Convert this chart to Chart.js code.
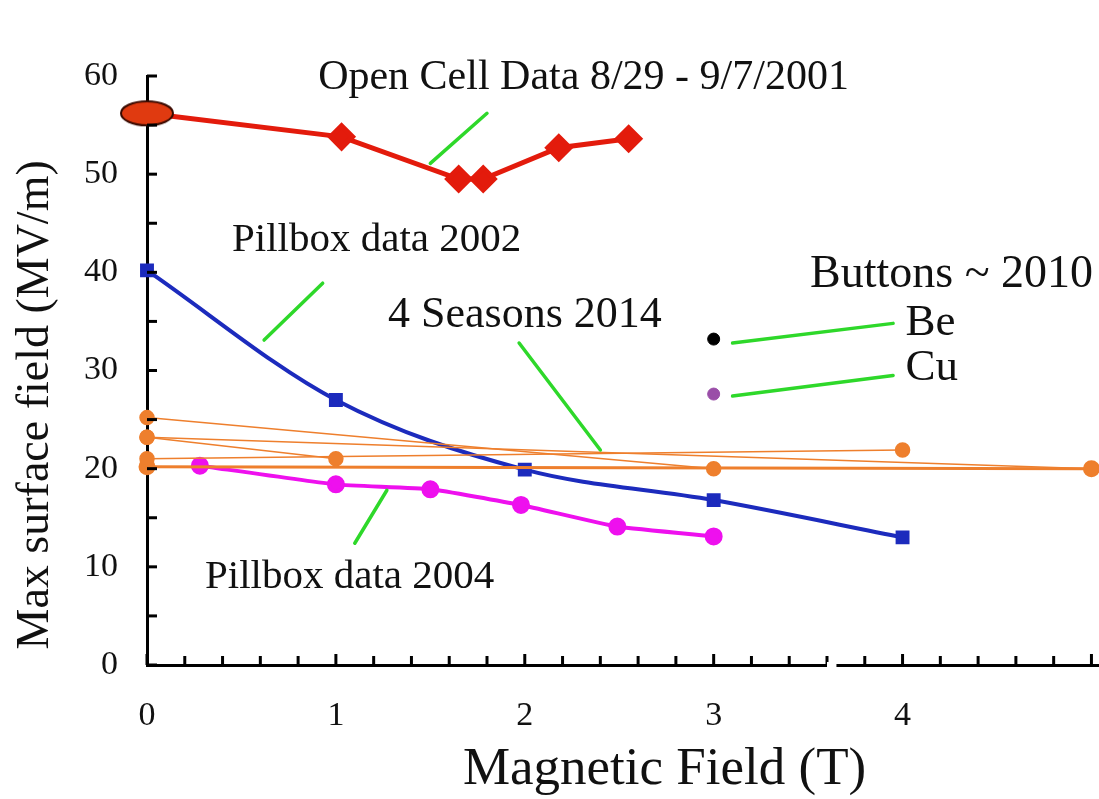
<!DOCTYPE html>
<html lang="en">
<head>
<meta charset="UTF-8">
<title>Max surface field vs magnetic field</title>
<script src="https://cdn.jsdelivr.net/npm/chart.js"></script>
<style>
html, body { margin: 0; padding: 0; background: #fff; overflow: hidden; }
#wrap { width: 1099px; height: 799px; position: relative; }
#wrap canvas { display: block; }
</style>
</head>
<body>
<div id="wrap"><canvas id="fieldChart"></canvas></div>
<script>
// Open cell data 8/29 - 9/7/2001
const openCellB = [0, 1.03, 1.65, 1.78, 2.18, 2.55];
const openCellE = [56.2, 53.8, 49.5, 49.5, 52.7, 53.6];

// Pillbox data 2002
const pill2002B = [0, 1, 2, 3, 4];
const pill2002E = [40.2, 27.0, 19.9, 16.8, 13.0];

// Pillbox data 2004
const pill2004B = [0.28, 1.0, 1.5, 1.98, 2.49, 3.0];
const pill2004E = [20.3, 18.4, 17.9, 16.3, 14.1, 13.1];

// 4 Seasons 2014 : each line goes from B = 0 to an end point
const seasonsStartE = [25.2, 23.2, 23.2, 21.0, 20.2];
const seasonsEndB = [3, 1, 5, 4, 5];
const seasonsEndE = [20.0, 21.0, 20.0, 21.9, 20.0];

// Buttons ~ 2010
const buttonNames = ['Be', 'Cu'];
const buttonB = [3, 3];
const buttonE = [33.2, 27.6];

// tick labels
const xTicks = [0, 1, 2, 3, 4];
const yTicks = [0, 10, 20, 30, 40, 50, 60];

// text labels and green leader lines (data units)
const notes = [
  { text: 'Open Cell Data 8/29 - 9/7/2001', b: 0.906, e: 59.8, size: 42 },
  { text: 'Pillbox data 2002', b: 0.45, e: 43.3, size: 41 },
  { text: '4 Seasons 2014', b: 1.276, e: 35.6, size: 44 },
  { text: 'Buttons ~ 2010', b: 3.51, e: 39.7, size: 46 },
  { text: 'Be', b: 4.015, e: 34.8, size: 45 },
  { text: 'Cu', b: 4.015, e: 30.2, size: 45 },
  { text: 'Pillbox data 2004', b: 0.307, e: 8.9, size: 41 }
];
const leaders = [
  [1.50, 51.1, 1.80, 56.2],
  [0.62, 33.1, 0.93, 38.9],
  [1.97, 32.8, 2.40, 21.9],
  [1.10, 12.4, 1.27, 17.8],
  [3.10, 32.8, 3.95, 34.8],
  [3.10, 27.4, 3.95, 29.5]
];
// little break in the B axis line
const axisBreak = [3.6, 3.65];

const serif = "'Liberation Serif', 'Times New Roman', serif";

function pts(xs, ys) {
  return xs.map((x, i) => ({ x: x, y: ys[i] }));
}

// big ellipse used for the first open cell point
const ellipse = document.createElement('canvas');
ellipse.width = 56;
ellipse.height = 28;
(function () {
  const c = ellipse.getContext('2d');
  c.beginPath();
  c.ellipse(28, 14, 26, 12, 0, 0, Math.PI * 2);
  c.fillStyle = '#e03a10';
  c.fill();
  c.lineWidth = 2;
  c.strokeStyle = '#3a0a00';
  c.stroke();
})();

const datasets = [];

seasonsStartE.forEach((e0, i) => {
  datasets.push({
    data: pts([0, seasonsEndB[i]], [e0, seasonsEndE[i]]),
    showLine: true,
    clip: false,
    borderColor: '#ee7f2d',
    backgroundColor: '#ee7f2d',
    borderWidth: i === 4 ? 3 : 1.5,
    pointRadius: 7,
    pointStyle: 'circle'
  });
});

datasets.push({
  data: pts(pill2004B, pill2004E),
  showLine: true,
  clip: false,
  borderColor: '#ee10ee',
  backgroundColor: '#ee10ee',
  borderWidth: 4,
  pointRadius: 7,
  tension: 0.15
});

datasets.push({
  data: pts(pill2002B, pill2002E),
  showLine: true,
  clip: false,
  borderColor: '#1c2bbd',
  backgroundColor: '#1c2bbd',
  borderWidth: 4,
  pointRadius: 7,
  pointStyle: 'rect',
  cubicInterpolationMode: 'monotone'
});

datasets.push({
  data: pts(openCellB, openCellE),
  showLine: true,
  clip: false,
  borderColor: '#e31b0c',
  backgroundColor: '#e31b0c',
  borderWidth: 5,
  pointRadius: 11,
  pointStyle: openCellB.map((b, i) => i === 0 ? ellipse : 'rectRot')
});

datasets.push({
  data: pts(buttonB, buttonE),
  showLine: false,
  clip: false,
  backgroundColor: ['#000000', '#9a4ea8'],
  borderColor: ['#000000', '#9a4ea8'],
  pointRadius: 6
});

const decorations = {
  id: 'decorations',
  afterDraw(chart) {
    const ctx = chart.ctx;
    const xs = chart.scales.x, ys = chart.scales.y;
    const area = chart.chartArea;
    ctx.save();

    // inward tick marks
    ctx.strokeStyle = '#000';
    ctx.lineWidth = 3;
    for (let k = 0; k <= 25; k++) {
      const px = xs.getPixelForValue(k * 0.2);
      if (px > area.right) break;
      ctx.beginPath();
      ctx.moveTo(px, area.bottom);
      ctx.lineTo(px, area.bottom - (k % 5 === 0 ? 11 : 9));
      ctx.stroke();
    }
    for (let v = 0; v <= 60; v += 5) {
      const py = ys.getPixelForValue(v);
      ctx.beginPath();
      ctx.moveTo(area.left, py);
      ctx.lineTo(area.left + 10, py);
      ctx.stroke();
    }

    // break in the axis line
    const b0 = xs.getPixelForValue(axisBreak[0]);
    const b1 = xs.getPixelForValue(axisBreak[1]);
    ctx.fillStyle = '#fff';
    ctx.fillRect(b0, area.bottom - 3, b1 - b0, 6);

    // green leader lines
    ctx.strokeStyle = '#2ed82a';
    ctx.lineWidth = 3.5;
    ctx.lineCap = 'round';
    leaders.forEach(l => {
      ctx.beginPath();
      ctx.moveTo(xs.getPixelForValue(l[0]), ys.getPixelForValue(l[1]));
      ctx.lineTo(xs.getPixelForValue(l[2]), ys.getPixelForValue(l[3]));
      ctx.stroke();
    });

    // labels
    ctx.fillStyle = '#111';
    ctx.textBaseline = 'middle';
    ctx.textAlign = 'left';
    notes.forEach(n => {
      ctx.font = n.size + 'px ' + serif;
      ctx.fillText(n.text, xs.getPixelForValue(n.b), ys.getPixelForValue(n.e));
    });

    // axis titles
    ctx.font = '53px ' + serif;
    ctx.textAlign = 'center';
    ctx.fillText('Magnetic Field (T)', xs.getPixelForValue(2.74), 770);
    ctx.save();
    ctx.translate(36, ys.getPixelForValue(26.5));
    ctx.rotate(-Math.PI / 2);
    ctx.font = '46px ' + serif;
    ctx.fillText('Max surface field (MV/m)', 0, 0);
    ctx.restore();

    ctx.restore();
  }
};

new Chart(document.getElementById('fieldChart'), {
  type: 'scatter',
  data: { datasets: datasets },
  options: {
    responsive: true,
    maintainAspectRatio: false,
    animation: false,
    layout: { autoPadding: false, padding: { top: 76, right: 0, left: 0, bottom: 0 } },
    plugins: {
      legend: { display: false },
      tooltip: { enabled: false }
    },
    scales: {
      x: {
        type: 'linear',
        min: 0,
        max: 5.04,
        grid: { display: false, drawTicks: false },
        border: { display: true, color: '#000', width: 3 },
        ticks: {
          color: '#111',
          padding: 31,
          maxRotation: 0,
          font: { family: serif, size: 34 }
        },
        afterBuildTicks: s => { s.ticks = xTicks.map(v => ({ value: v })); },
        afterFit: s => { s.height = 134; s.paddingLeft = 0; s.paddingRight = 0; }
      },
      y: {
        type: 'linear',
        min: 0,
        max: 60,
        grid: { display: false, drawTicks: false },
        border: { display: true, color: '#000', width: 3 },
        ticks: {
          color: '#111',
          padding: 29,
          font: { family: serif, size: 34 }
        },
        afterBuildTicks: s => { s.ticks = yTicks.map(v => ({ value: v })); },
        afterFit: s => { s.width = 147; s.paddingTop = 0; s.paddingBottom = 0; }
      }
    }
  },
  plugins: [decorations]
});
</script>
</body>
</html>
